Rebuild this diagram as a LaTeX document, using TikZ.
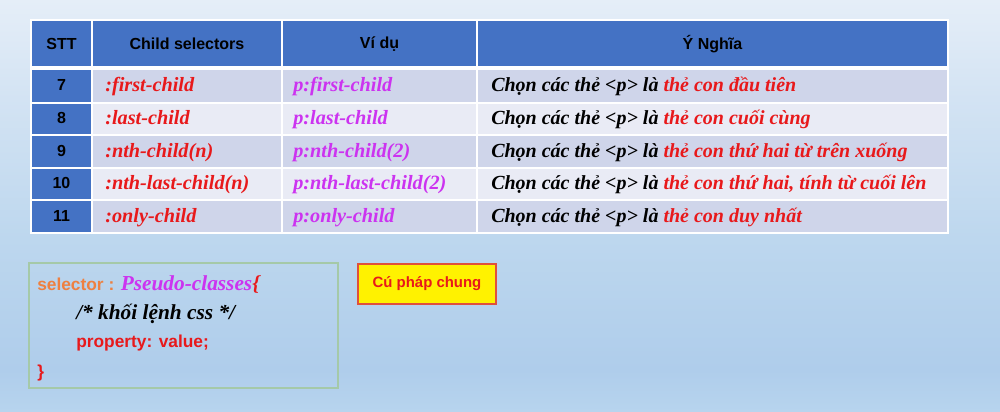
\documentclass[tikz,border=0pt]{standalone}
\usepackage{fontspec}
\setmainfont{Liberation Serif}
\newfontfamily\sansf{Liberation Sans}
\definecolor{hdrblue}{HTML}{4472C4}
\definecolor{rowdark}{HTML}{CFD5EA}
\definecolor{rowlight}{HTML}{E9EBF5}
\definecolor{txtred}{HTML}{E8191B}
\definecolor{txtpurple}{HTML}{CC33F0}
\definecolor{txtorange}{HTML}{EE8040}
\definecolor{boxgreen}{HTML}{A5C9A8}
\definecolor{ylw}{HTML}{FFF200}
\definecolor{ylwborder}{HTML}{E0503A}
\definecolor{bgT}{HTML}{E5EEF8}
\definecolor{bgU}{HTML}{D3E3F3}
\definecolor{bgM}{HTML}{BDD7EE}
\definecolor{bgB}{HTML}{AFCDEB}
\definecolor{bgC}{HTML}{B7D4EE}
\pgfdeclareverticalshading{bgshade}{100bp}{color(0bp)=(bgC); color(25bp)=(bgC); color(30bp)=(bgB); color(46bp)=(bgM); color(63bp)=(bgU); color(75bp)=(bgT); color(100bp)=(bgT)}
\tikzset{
  hdrtext/.style={font=\sansf\bfseries\fontsize{12}{14}\selectfont, text=black, inner sep=0pt},
  stttext/.style={font=\sansf\bfseries\fontsize{12}{14}\selectfont, text=black, inner sep=0pt, anchor=base},
  seltext/.style={font=\bfseries\itshape\fontsize{15.2}{18}\selectfont, text=txtred, inner sep=0pt, anchor=base west},
  extext/.style={font=\bfseries\itshape\fontsize{15.2}{18}\selectfont, text=txtpurple, inner sep=0pt, anchor=base west},
  meantext/.style={font=\bfseries\itshape\fontsize{15}{18}\selectfont, text=black, inner sep=0pt, anchor=base west},
  gridline/.style={draw=white, line width=1.5pt},
  codeline/.style={inner sep=0pt, anchor=base west},
  notebox/.style={draw=ylwborder, fill=ylw, line width=1.2pt, minimum width=103.5pt, minimum height=30pt, inner sep=0pt,
    font=\sansf\bfseries\fontsize{11.2}{13}\selectfont, text=txtred}
}
\begin{document}
\begin{tikzpicture}[x=0.75pt,y=-0.75pt]
\shade[shading=bgshade] (0,0) rectangle (1000,411);
\useasboundingbox (0,0) rectangle (1000,411);
% header
\path[fill=hdrblue] (31,20) rectangle (948,66);
\node[hdrtext] (hstt) at (61.5,44) {STT};
\node[hdrtext] (hsel) at (187,44) {Child selectors};
\node[hdrtext] (hex) at (379.5,44) {Ví dụ};
\node[hdrtext] (hmean) at (712.5,44) {Ý Nghĩa};
% rows
\foreach \num/\sel/\ex/\mean [count=\k from 0] in {
  7/{:first-child}/{p:first-child}/{thẻ con đầu tiên},
  8/{:last-child}/{p:last-child}/{thẻ con cuối cùng},
  9/{:nth-child(n)}/{p:nth-child(2)}/{thẻ con thứ hai từ trên xuống},
  10/{:nth-last-child(n)}/{p:nth-last-child(2)}/{thẻ con thứ hai, tính từ cuối lên},
  11/{:only-child}/{p:only-child}/{thẻ con duy nhất}}{
  \pgfmathsetmacro{\top}{70+32.6*\k}
  \pgfmathsetmacro{\bot}{\top+32.6}
  \pgfmathsetmacro{\base}{\top+16.3+5.5}
  \pgfmathtruncatemacro{\odd}{mod(\k,2)}
  \ifnum\odd=0 \def\rowfill{rowdark}\else\def\rowfill{rowlight}\fi
  \path[fill=\rowfill] (92,\top) rectangle (948,\bot);
  \path[fill=hdrblue] (31,\top) rectangle (92,\bot);
  \node[stttext] (stt\num) at (61.5,\base-1) {\num};
  \node[seltext] (sel\num) at (105,\base) {\sel};
  \node[extext] (ex\num) at (293,\base) {\ex};
  \node[meantext] (mean\num) at (491,\base) {Chọn các thẻ <p> là \textcolor{txtred}{\mean}};
}
% grid lines
\path[fill=white] (31,66) rectangle (948,70);
\foreach \yy in {102.6,135.2,167.8,200.4} \draw[gridline] (31,\yy) -- (948,\yy);
\foreach \xx in {92,282,477} \draw[gridline] (\xx,20) -- (\xx,233);
\draw[draw=white, line width=0.9pt] (31,20) rectangle (948,233);
% code box
\draw[draw=boxgreen, line width=1.1pt] (29,263) rectangle (338,388);
\node[codeline] (code1) at (37,290) {{\sansf\bfseries\fontsize{13}{15}\selectfont\color{txtorange}selector : }{\bfseries\itshape\fontsize{16}{18}\selectfont\color{txtpurple}Pseudo-classes}{\bfseries\itshape\fontsize{16}{18}\selectfont\color{txtred}\{}};
\node[codeline, font=\bfseries\itshape\fontsize{16}{18}\selectfont, text=black] (code2) at (76,319) {/* khối lệnh css */};
\node[codeline, font=\sansf\bfseries\fontsize{13}{15}\selectfont, text=txtred] (code3) at (76,347) {property: value;};
\node[codeline, font=\sansf\bfseries\fontsize{13}{15}\selectfont, text=txtred] (code4) at (37,377) {\}};
% note
\node[notebox] (note) at (427,284) {Cú pháp chung};
\end{tikzpicture}
\end{document}
